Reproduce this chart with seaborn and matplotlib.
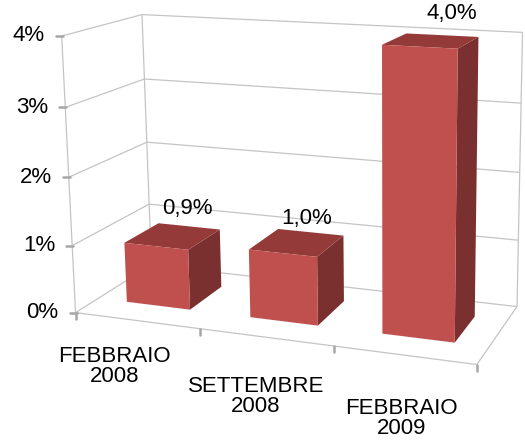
import numpy as np
import matplotlib
matplotlib.use("Agg")
import matplotlib.pyplot as plt
from matplotlib.transforms import Transform
from matplotlib.patches import Polygon
import pandas as pd
import seaborn as sns

# ---------------- data ----------------
categories = ["FEBBRAIO\n2008", "SETTEMBRE\n2008", "FEBBRAIO\n2009"]
values = [0.9, 1.0, 4.0]
value_labels = ["0,9%", "1,0%", "4,0%"]
y_ticks = [0, 1, 2, 3, 4]
y_tick_labels = ["0%", "1%", "2%", "3%", "4%"]

# ---------------- style ----------------
FRONT = "#C0504D"
TOP = "#943B39"
SIDE = "#7A302E"
GRID = "#C4C4C4"
TICK = "#A6A6A6"
BAR_W = 0.52
D0, D1 = 0.28, 0.74   # bar depth extent (0 = front, 1 = back wall)
FS = 16

sns.set_theme(style="white")
plt.rcParams['font.family'] = ['Liberation Sans', 'DejaVu Sans']

# ---------------- perspective camera (layout anchors of the frame) ----------------
frame_3d = [(0, 0, 0), (0, 0, 1), (0, 0, 2), (0, 0, 3), (0, 0, 4),
            (0, 1, 0), (0, 1, 1), (0, 1, 3), (0, 1, 4),
            (3, 1, 0), (3, 1, 1), (3, 1, 3), (3, 1, 4),
            (3, 0, 0), (1, 0, 0), (2, 0, 0)]
frame_px = [(77, 313), (72, 246), (68, 178), (65, 108), (62, 35),
            (150, 264), (150, 205), (145, 79), (142, 14),
            (517, 307), (519, 240), (521, 103), (522, 33),
            (478, 364), (200, 328), (332, 346)]


def fit_camera(p3, p2):
    rows = []
    for (X, Y, Z), (u, v) in zip(p3, p2):
        u, v = u / 100.0, v / 100.0
        rows.append([X, Y, Z, 1, 0, 0, 0, 0, -u * X, -u * Y, -u * Z, -u])
        rows.append([0, 0, 0, 0, X, Y, Z, 1, -v * X, -v * Y, -v * Z, -v])
    _, _, vt = np.linalg.svd(np.asarray(rows, float))
    return vt[-1].reshape(3, 4)


CAM = fit_camera(frame_3d, frame_px)


def project(x, y, z):
    x = np.atleast_1d(np.asarray(x, float))
    y = np.broadcast_to(np.asarray(y, float), x.shape)
    z = np.broadcast_to(np.asarray(z, float), x.shape)
    h = CAM @ np.vstack([x, y, z, np.ones_like(x)])
    return np.column_stack([h[0] / h[2], h[1] / h[2]]) * 100.0


class FaceProj(Transform):
    """Maps (category position, value) of a seaborn bar onto its 3-D front face."""
    input_dims = 2
    output_dims = 2
    is_separable = False
    has_inverse = False

    def __init__(self, face_depth, shift):
        super().__init__()
        self._face_depth = face_depth
        self._shift = shift

    def transform_non_affine(self, values):
        values = np.asarray(values, float)
        return project(values[:, 0] + self._shift, self._face_depth, values[:, 1])


# ---------------- figure ----------------
fig = plt.figure(figsize=(5.25, 4.4), dpi=100)
ax = fig.add_axes([0, 0, 1, 1])

df = pd.DataFrame({"cat": categories, "val": values})
sns.barplot(data=df, x="cat", y="val", color=FRONT, saturation=1, width=BAR_W,
            errorbar=None, linewidth=0, ax=ax, zorder=5)

ax.set_autoscale_on(False)
ax.set_xlim(0, 525)
ax.set_ylim(440, 0)
ax.axis("off")

zmax = y_ticks[-1]
ncat = len(categories)


def seg(p, q, **kw):
    pts = project([p[0], q[0]], [p[1], q[1]], [p[2], q[2]])
    ax.plot(pts[:, 0], pts[:, 1], **kw)


gkw = dict(color=GRID, lw=0.9, zorder=1, solid_capstyle="butt")
for z in y_ticks:
    seg((0, 1, z), (ncat, 1, z), **gkw)       # back wall
    seg((0, 0, z), (0, 1, z), **gkw)          # left wall
seg((0, 0, 0), (0, 0, zmax), **gkw)
seg((0, 1, 0), (0, 1, zmax), **gkw)
seg((ncat, 1, 0), (ncat, 1, zmax), **gkw)
seg((0, 0, 0), (ncat, 0, 0), **gkw)           # floor front edge
seg((ncat, 0, 0), (ncat, 1, 0), **gkw)        # floor right edge

# tick marks and tick labels
for z, lab in zip(y_ticks, y_tick_labels):
    (px, py), = project(0, 0, z)
    ax.plot([px - 6, px + 1], [py, py], color=TICK, lw=1.8, zorder=2)
    ax.text(px - 17, py, lab, ha="right", va="center", fontsize=FS, color="black")
for k in range(ncat + 1):
    (px, py), = project(k, 0, 0)
    ax.plot([px, px], [py, py + 6], color=TICK, lw=1.8, zorder=2)

# 3-D faces of the seaborn bars
label_shift = [(-2, -18), (-4, -14), (10, -22)]
for i, bar in enumerate(ax.patches):
    bar.set_transform(FaceProj(D0, 0.5) + ax.transData)
    x0 = bar.get_x() + 0.5
    x1 = x0 + bar.get_width()
    h = bar.get_height()
    top = project([x0, x1, x1, x0], [D0, D0, D1, D1], [h, h, h, h])
    side = project([x1, x1, x1, x1], [D0, D1, D1, D0], [0, 0, h, h])
    ax.add_patch(Polygon(side, closed=True, facecolor=SIDE, edgecolor="none", zorder=4))
    ax.add_patch(Polygon(top, closed=True, facecolor=TOP, edgecolor="none", zorder=4))
    (lx, ly), = project(x0 + bar.get_width() / 2, D1, h)
    dx, dy = label_shift[i]
    ax.text(lx + dx, ly + dy, value_labels[i], ha="center", va="center", fontsize=FS,
            color="black", zorder=6)

# category labels
cat_offsets = [(-22, 25), (-10, 39), (-2, 43)]
for k, (lab, (dx, dy)) in enumerate(zip(categories, cat_offsets)):
    (px, py), = project(k + 0.5, 0, 0)
    ax.text(px + dx, py + dy, lab, ha="center", va="top", fontsize=FS,
            linespacing=0.95, color="black")

fig.savefig("out.png", dpi=100)
